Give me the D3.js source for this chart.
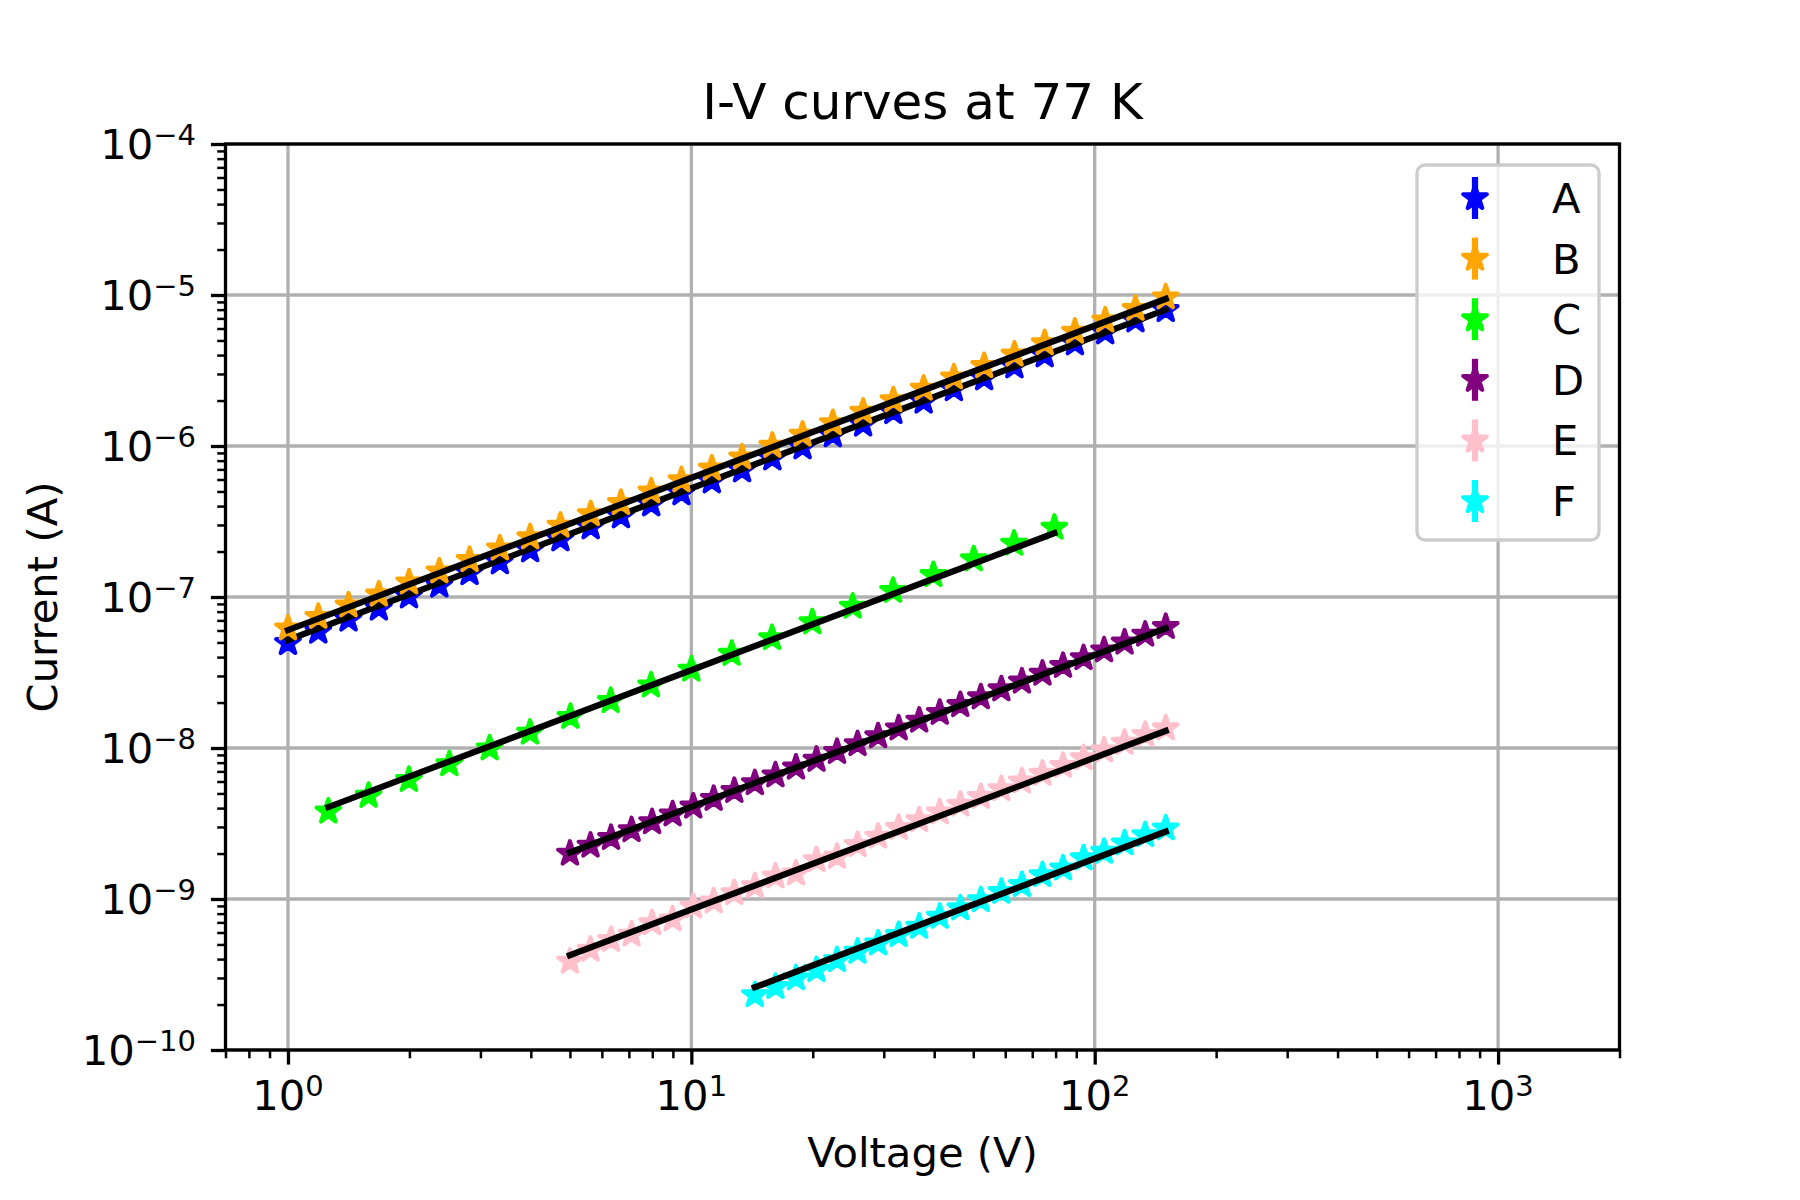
<!DOCTYPE html>
<html>
<head>
<meta charset="utf-8">
<script src="https://cdn.jsdelivr.net/npm/d3@7"></script>
<style>
body { margin: 0; background: #fff; }
text { font-family: "DejaVu Sans", sans-serif; fill: #000; }
</style>
</head>
<body>
<script>
const width = 1800;
const height = 1200;
const margin = { left: 225.5, right: 1619.5, top: 144, bottom: 1050 };

// data
const seriesNames = ['A', 'B', 'C', 'D', 'E', 'F'];
const seriesColors = ['#0000ff', '#ffa500', '#00ff00', '#800080', '#ffc0cb', '#00ffff'];

const voltsAB = [1.0, 1.189, 1.413, 1.680, 1.996, 2.373, 2.820, 3.352, 3.985, 4.736, 5.630, 6.691, 7.953, 9.453, 11.24,
    13.36, 15.88, 18.87, 22.43, 26.66, 31.68, 37.66, 44.76, 53.20, 63.23, 75.16, 89.33, 106.2, 126.2, 150.0];
const currA = [4.96e-8, 5.9e-8, 7.1e-8, 8.4e-8, 1.01e-7, 1.19e-7, 1.44e-7, 1.70e-7, 2.04e-7, 2.41e-7, 2.90e-7, 3.43e-7,
    4.11e-7, 4.87e-7, 5.84e-7, 6.91e-7, 8.28e-7, 9.80e-7, 1.18e-6, 1.39e-6, 1.68e-6, 1.97e-6, 2.38e-6, 2.81e-6,
    3.37e-6, 3.99e-6, 4.79e-6, 5.66e-6, 6.80e-6, 7.96e-6];
const currB = [6.2e-8, 7.4e-8, 8.8e-8, 1.04e-7, 1.25e-7, 1.48e-7, 1.76e-7, 2.10e-7, 2.49e-7, 2.97e-7, 3.54e-7, 4.20e-7,
    5.01e-7, 5.94e-7, 7.10e-7, 8.42e-7, 1.005e-6, 1.19e-6, 1.42e-6, 1.69e-6, 2.01e-6, 2.40e-6, 2.85e-6, 3.39e-6,
    4.04e-6, 4.80e-6, 5.72e-6, 6.79e-6, 8.11e-6, 9.65e-6];

const voltsC = [1.259, 1.585, 1.995, 2.512, 3.162, 3.981, 5.012, 6.310, 7.943, 10.0, 12.59, 15.85, 19.95, 25.12, 31.62,
    39.81, 50.12, 63.10, 79.43];
const currC = [3.80e-9, 4.83e-9, 6.15e-9, 7.82e-9, 9.95e-9, 1.265e-8, 1.61e-8, 2.05e-8, 2.60e-8, 3.31e-8, 4.21e-8,
    5.35e-8, 6.81e-8, 8.65e-8, 1.10e-7, 1.40e-7, 1.78e-7, 2.26e-7, 2.88e-7];

const voltsDE = [5.0, 5.623, 6.322, 7.109, 7.993, 8.987, 10.11, 11.36, 12.78, 14.37, 16.16, 18.17, 20.43, 22.97, 25.83,
    29.04, 32.66, 36.72, 41.29, 46.43, 52.20, 58.70, 66.00, 74.22, 83.45, 93.84, 105.5, 118.6, 133.4, 150.0];
const currD = [2.00e-9, 2.26e-9, 2.54e-9, 2.86e-9, 3.23e-9, 3.64e-9, 4.10e-9, 4.61e-9, 5.20e-9, 5.86e-9, 6.60e-9,
    7.43e-9, 8.37e-9, 9.43e-9, 1.062e-8, 1.197e-8, 1.349e-8, 1.52e-8, 1.712e-8, 1.928e-8, 2.17e-8, 2.45e-8,
    2.76e-8, 3.11e-8, 3.50e-8, 3.94e-8, 4.44e-8, 5.00e-8, 5.64e-8, 6.34e-8];
const currE = [3.85e-10, 4.62e-10, 5.37e-10, 5.82e-10, 6.92e-10, 7.33e-10, 8.91e-10, 9.66e-10, 1.096e-9, 1.216e-9,
    1.413e-9, 1.479e-9, 1.81e-9, 1.905e-9, 2.28e-9, 2.59e-9, 2.96e-9, 3.33e-9, 3.75e-9, 4.22e-9, 4.75e-9,
    5.35e-9, 6.01e-9, 6.76e-9, 7.62e-9, 8.57e-9, 9.64e-9, 1.084e-8, 1.222e-8, 1.352e-8];

const voltsF = [14.37, 16.16, 18.17, 20.43, 22.97, 25.83, 29.04, 32.66, 36.72, 41.29, 46.43, 52.20, 58.70, 66.00,
    74.22, 83.45, 93.84, 105.5, 118.6, 133.4, 150.0];
const currF = [2.31e-10, 2.62e-10, 2.99e-10, 3.39e-10, 3.94e-10, 4.48e-10, 5.09e-10, 5.78e-10, 6.56e-10, 7.64e-10,
    8.69e-10, 9.84e-10, 1.117e-9, 1.239e-9, 1.442e-9, 1.596e-9, 1.862e-9, 2.056e-9, 2.34e-9, 2.65e-9, 2.94e-9];

// power law fits I = K * V^n
const fitK = [5.19e-8, 6.04e-8, 3.22e-9, 4.03e-10, 8.40e-11, 1.754e-11];
const fitN = [1.005, 1.008, 1.008, 1.005, 1.006, 1.012];

const xTicks = [1, 10, 100, 1000];
const yTicks = [1e-10, 1e-9, 1e-8, 1e-7, 1e-6, 1e-5, 1e-4];

const series = [
    { v: voltsAB, i: currA },
    { v: voltsAB, i: currB },
    { v: voltsC, i: currC },
    { v: voltsDE, i: currD },
    { v: voltsDE, i: currE },
    { v: voltsF, i: currF },
].map((s, k) => ({ ...s, name: seriesNames[k], color: seriesColors[k], K: fitK[k], n: fitN[k] }));

const x = d3.scaleLog().domain([0.7, 2000]).range([margin.left, margin.right]);
const y = d3.scaleLog().domain([1e-10, 1e-4]).range([margin.bottom, margin.top]);

const svg = d3.select('body')
    .append('svg')
    .attr('width', width)
    .attr('height', height);

// grid
const grid = svg.append('g').attr('stroke', '#b0b0b0').attr('stroke-width', 3.3);
grid.selectAll('.gx')
    .data(xTicks)
    .join('line')
    .attr('x1', (d) => x(d)).attr('x2', (d) => x(d))
    .attr('y1', margin.top).attr('y2', margin.bottom);
grid.selectAll('.gy')
    .data(yTicks)
    .join('line')
    .attr('y1', (d) => y(d)).attr('y2', (d) => y(d))
    .attr('x1', margin.left).attr('x2', margin.right);

const starPath = (R) => {
    const r = R * 0.381966;
    const pts = d3.range(10).map((k) => {
        const a = -Math.PI / 2 + k * Math.PI / 5;
        const rad = k % 2 ? r : R;
        return [rad * Math.cos(a), rad * Math.sin(a)];
    });
    return 'M' + pts.map((p) => p.join(',')).join('L') + 'Z';
};
const star = starPath(12.5);

// series: markers then fit line
const plot = svg.append('g');
series.forEach((s) => {
    const pts = s.v.map((v, k) => [v, s.i[k]]);
    plot.append('g')
        .selectAll('path')
        .data(pts)
        .join('path')
        .attr('d', star)
        .attr('transform', (d) => `translate(${x(d[0])},${y(d[1])})`)
        .attr('fill', s.color)
        .attr('stroke', s.color)
        .attr('stroke-width', 4)
        .attr('stroke-linejoin', 'round');

    const v0 = s.v[0];
    const v1 = s.v[s.v.length - 1];
    plot.append('path')
        .datum([[v0, s.K * Math.pow(v0, s.n)], [v1, s.K * Math.pow(v1, s.n)]])
        .attr('d', d3.line().x((d) => x(d[0])).y((d) => y(d[1])))
        .attr('fill', 'none')
        .attr('stroke', '#000')
        .attr('stroke-width', 6.25)
        .attr('stroke-linecap', 'square');
});

// spines
svg.append('rect')
    .attr('x', margin.left).attr('y', margin.top)
    .attr('width', margin.right - margin.left)
    .attr('height', margin.bottom - margin.top)
    .attr('fill', 'none')
    .attr('stroke', '#000')
    .attr('stroke-width', 3.3);

// ticks
const xMinor = x.ticks().filter((d) => !xTicks.includes(d));
const yMinor = y.ticks().filter((d) => !yTicks.some((t) => Math.abs(t - d) / t < 1e-6));

const xAxisMinor = svg.append('g')
    .attr('transform', `translate(0,${margin.bottom})`)
    .call(d3.axisBottom(x).tickValues(xMinor).tickSize(8.3).tickFormat(''));
const xAxisMajor = svg.append('g')
    .attr('transform', `translate(0,${margin.bottom})`)
    .call(d3.axisBottom(x).tickValues(xTicks).tickSize(14.6).tickFormat(''));
const yAxisMinor = svg.append('g')
    .attr('transform', `translate(${margin.left},0)`)
    .call(d3.axisLeft(y).tickValues(yMinor).tickSize(8.3).tickFormat(''));
const yAxisMajor = svg.append('g')
    .attr('transform', `translate(${margin.left},0)`)
    .call(d3.axisLeft(y).tickValues(yTicks).tickSize(14.6).tickFormat(''));

[xAxisMinor, yAxisMinor].forEach((g) => {
    g.select('.domain').remove();
    g.selectAll('line').attr('stroke', '#000').attr('stroke-width', 2.5);
});
[xAxisMajor, yAxisMajor].forEach((g) => {
    g.select('.domain').remove();
    g.selectAll('line').attr('stroke', '#000').attr('stroke-width', 3.3);
});

// tick labels 10^k
const powLabel = (sel, d) => {
    const e = Math.round(Math.log10(d));
    sel.append('tspan').text('10');
    sel.append('tspan')
        .attr('font-size', 29)
        .attr('dy', -14)
        .text(e < 0 ? '\u2212' + (-e) : String(e));
};

svg.append('g')
    .selectAll('text')
    .data(xTicks)
    .join('text')
    .attr('x', (d) => x(d))
    .attr('y', 1110)
    .attr('text-anchor', 'middle')
    .attr('font-size', 41.7)
    .each(function (d) { powLabel(d3.select(this), d); });

svg.append('g')
    .selectAll('text')
    .data(yTicks)
    .join('text')
    .attr('x', 196)
    .attr('y', (d) => y(d) + 15)
    .attr('text-anchor', 'end')
    .attr('font-size', 41.7)
    .each(function (d) { powLabel(d3.select(this), d); });

// title and axis labels
svg.append('text')
    .attr('x', (margin.left + margin.right) / 2)
    .attr('y', 119)
    .attr('text-anchor', 'middle')
    .attr('font-size', 50)
    .text('I-V curves at 77 K');

svg.append('text')
    .attr('x', (margin.left + margin.right) / 2)
    .attr('y', 1167)
    .attr('text-anchor', 'middle')
    .attr('font-size', 41.7)
    .text('Voltage (V)');

svg.append('text')
    .attr('transform', `translate(57,${(margin.top + margin.bottom) / 2}) rotate(-90)`)
    .attr('text-anchor', 'middle')
    .attr('font-size', 41.7)
    .text('Current (A)');

// legend
const legend = svg.append('g');
legend.append('rect')
    .attr('x', 1417).attr('y', 165)
    .attr('width', 182).attr('height', 375)
    .attr('rx', 8)
    .attr('fill', '#fff').attr('fill-opacity', 0.8)
    .attr('stroke', '#cccccc').attr('stroke-width', 3.3);

const rows = legend.selectAll('.row')
    .data(series)
    .join('g')
    .attr('transform', (d, k) => `translate(0,${198 + k * 60.6})`);
rows.append('line')
    .attr('x1', 1475).attr('x2', 1475)
    .attr('y1', -21).attr('y2', 21)
    .attr('stroke', (d) => d.color)
    .attr('stroke-width', 6.25);
rows.append('path')
    .attr('d', star)
    .attr('transform', 'translate(1475,0)')
    .attr('fill', (d) => d.color)
    .attr('stroke', (d) => d.color)
    .attr('stroke-width', 4)
    .attr('stroke-linejoin', 'round');
rows.append('text')
    .attr('x', 1552)
    .attr('y', 15)
    .attr('font-size', 41.7)
    .text((d) => d.name);
</script>
</body>
</html>
